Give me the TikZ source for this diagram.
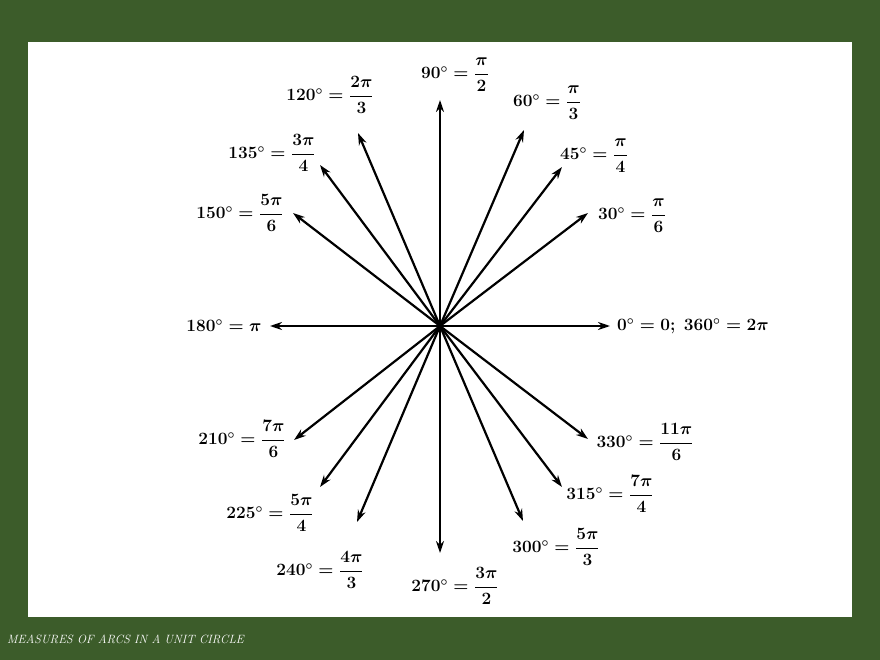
\documentclass[tikz,border=0pt]{standalone}
\usepackage{amsmath}
\usetikzlibrary{arrows.meta}
\definecolor{bg}{HTML}{3C5C2A}
\begin{document}
\begin{tikzpicture}[x=1pt,y=-1pt,
  ray/.style={line width=2.2pt,-{Stealth[length=12pt,width=8pt]}},
  lab/.style={font=\fontsize{17}{20}\selectfont\boldmath,inner sep=1pt}]
\useasboundingbox (0,0) rectangle (880,660);
\fill[bg] (0,0) rectangle (880,660);
\fill[white] (28,42) rectangle (852,617);
\coordinate (o) at (440,326);
\foreach \n/\x/\y in {a0/610/326,a30/588/213,a45/562/167,a60/524/130,a90/440/100,a120/358/133,a135/320/165,a150/293/213,a180/270/326,a210/294/440,a225/320/487,a240/357/522,a270/440/553,a300/523/521,a315/562/487,a330/588/439}{
  \coordinate (\n) at (\x,\y);
  \draw[ray] (o) -- (\n);
}
\node[lab] (l90) at (455,75) {$90^\circ=\dfrac{\pi}{2}$};
\node[lab] (l60) at (547,103) {$60^\circ=\dfrac{\pi}{3}$};
\node[lab] (l45) at (594,156) {$45^\circ=\dfrac{\pi}{4}$};
\node[lab] (l30) at (632,216) {$30^\circ=\dfrac{\pi}{6}$};
\node[lab] (l0) at (693,326) {$0^\circ=0;\ 360^\circ=2\pi$};
\node[lab] (l120) at (330,95) {$120^\circ=\dfrac{2\pi}{3}$};
\node[lab] (l135) at (272,153) {$135^\circ=\dfrac{3\pi}{4}$};
\node[lab] (l150) at (240,213) {$150^\circ=\dfrac{5\pi}{6}$};
\node[lab] (l180) at (224,326) {$180^\circ=\pi$};
\node[lab] (l210) at (242,439) {$210^\circ=\dfrac{7\pi}{6}$};
\node[lab] (l225) at (270,513) {$225^\circ=\dfrac{5\pi}{4}$};
\node[lab] (l240) at (320,570) {$240^\circ=\dfrac{4\pi}{3}$};
\node[lab] (l270) at (455,586) {$270^\circ=\dfrac{3\pi}{2}$};
\node[lab] (l300) at (556,547) {$300^\circ=\dfrac{5\pi}{3}$};
\node[lab] (l315) at (610,494) {$315^\circ=\dfrac{7\pi}{4}$};
\node[lab] (l330) at (645,442) {$330^\circ=\dfrac{11\pi}{6}$};
\node[anchor=west,text=white,font=\fontsize{12}{14}\selectfont\itshape,inner sep=0pt] (cap) at (7,639) {MEASURES OF ARCS IN A UNIT CIRCLE};
\end{tikzpicture}
\end{document}
